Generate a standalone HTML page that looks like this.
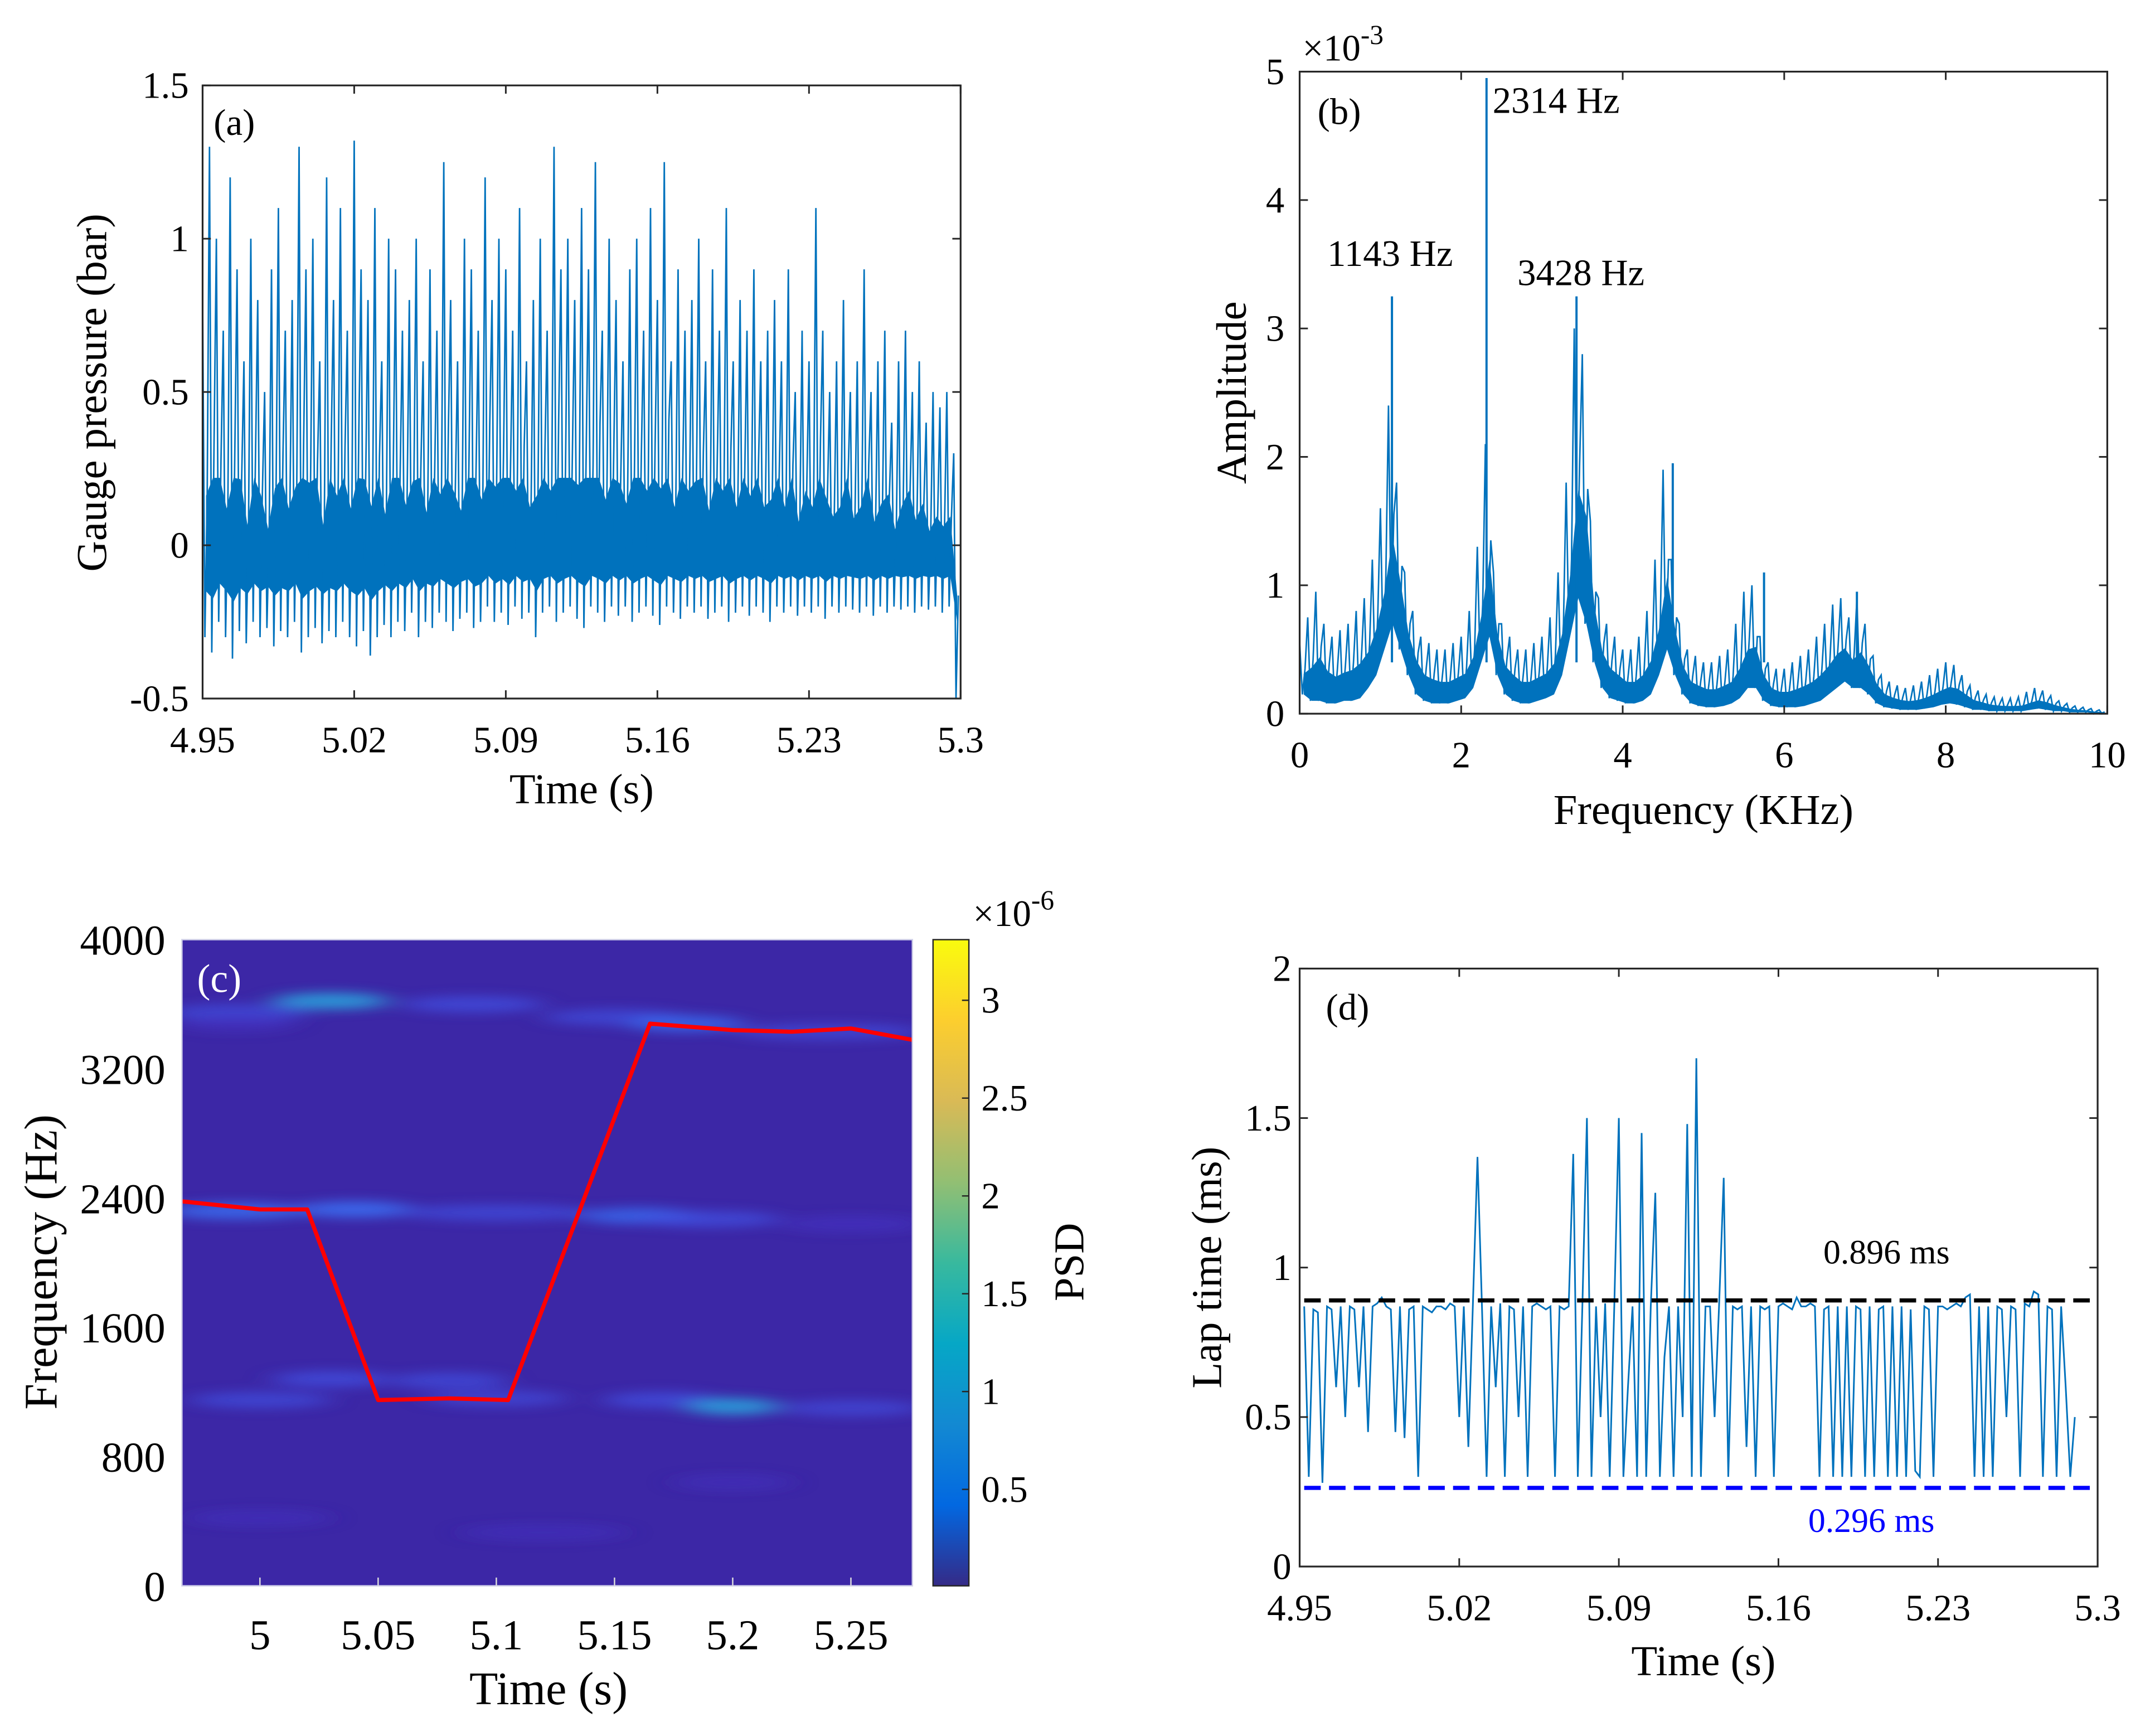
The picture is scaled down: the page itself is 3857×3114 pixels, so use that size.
<!DOCTYPE html>
<html><head><meta charset="utf-8">
<style>
html,body{margin:0;padding:0;background:#fff;}
svg{display:block;font-family:"Liberation Serif",serif;}
svg text{font-family:"Liberation Serif",serif;}
</style></head>
<body>
<svg id="fig" width="3857" height="3114" viewBox="0 0 1560 1260" preserveAspectRatio="none" xmlns="http://www.w3.org/2000/svg">
<defs>
<filter id="blur" x="-50%" y="-200%" width="200%" height="500%"><feGaussianBlur stdDeviation="10 4"/></filter>
<linearGradient id="parula" x1="0" y1="1" x2="0" y2="0">
<stop offset="0" stop-color="#352A87"/><stop offset="0.125" stop-color="#0268E1"/><stop offset="0.25" stop-color="#1389D2"/><stop offset="0.375" stop-color="#06A7C6"/><stop offset="0.5" stop-color="#38B99E"/><stop offset="0.625" stop-color="#92BF73"/><stop offset="0.75" stop-color="#D9BA56"/><stop offset="0.875" stop-color="#FCCE2E"/><stop offset="1" stop-color="#F9FB0E"/>
</linearGradient>
<clipPath id="clipC"><rect x="132" y="682" width="530" height="469"/></clipPath>
</defs>
<g id="root"></g>
</svg>
<script>
// ---------- Panel (a) data ----------
const aTop=[0.8,1.3,1.0,0.7,1.2,0.9,0.6,1.0,0.8,0.5,0.9,1.1,0.7,0.8,1.3,0.9,1.0,0.6,1.2,0.8,1.1,0.7,1.32,0.9,0.8,1.1,0.6,1.0,0.9,0.7,0.8,1.0,0.6,0.9,0.7,1.25,0.8,0.6,1.0,0.9,0.7,1.2,0.8,1.0,0.9,0.7,1.1,0.6,0.8,1.0,0.7,1.3,0.9,1.0,0.8,1.1,0.9,1.25,0.7,1.0,0.8,0.6,0.9,1.0,0.7,1.1,0.8,1.25,0.6,0.9,0.7,0.8,1.0,0.6,0.9,0.7,1.1,0.6,0.8,0.7,0.9,0.6,0.7,0.8,0.6,0.9,0.5,0.7,0.6,1.1,0.7,0.5,0.6,0.8,0.5,0.6,0.9,0.5,0.6,0.7,0.4,0.6,0.7,0.5,0.6,0.4,0.5,0.45,0.5,0.3];
const aBot=[-0.3,-0.35,-0.25,-0.3,-0.37,-0.28,-0.32,-0.25,-0.3,-0.27,-0.33,-0.28,-0.3,-0.25,-0.35,-0.3,-0.27,-0.32,-0.28,-0.3,-0.25,-0.3,-0.33,-0.28,-0.36,-0.3,-0.26,-0.3,-0.25,-0.28,-0.22,-0.3,-0.25,-0.27,-0.22,-0.25,-0.28,-0.24,-0.22,-0.27,-0.25,-0.2,-0.25,-0.22,-0.26,-0.2,-0.24,-0.22,-0.3,-0.22,-0.2,-0.25,-0.22,-0.2,-0.24,-0.27,-0.2,-0.22,-0.25,-0.2,-0.23,-0.2,-0.25,-0.22,-0.2,-0.23,-0.26,-0.2,-0.22,-0.24,-0.2,-0.22,-0.2,-0.24,-0.22,-0.2,-0.25,-0.22,-0.2,-0.23,-0.2,-0.22,-0.25,-0.2,-0.22,-0.2,-0.23,-0.2,-0.22,-0.2,-0.24,-0.2,-0.22,-0.2,-0.21,-0.22,-0.2,-0.23,-0.2,-0.22,-0.2,-0.21,-0.2,-0.22,-0.2,-0.21,-0.2,-0.22,-0.2,-0.5];
const aXTicks=[4.95,5.02,5.09,5.16,5.23,5.3];
const aXTickLabels=["4.95","5.02","5.09","5.16","5.23","5.3"];
const aYTicks=[-0.5,0,0.5,1,1.5];
const aYTickLabels=["-0.5","0","0.5","1","1.5"];

// ---------- Panel (b) data ----------
const bTop=[0.55,0.75,0.95,0.7,0.6,0.65,0.7,0.8,0.9,1.2,
1.6,2.4,1.8,1.1,0.8,0.6,0.55,0.5,0.5,0.55,
0.6,0.8,1.3,2.1,1.1,0.7,0.6,0.5,0.5,0.55,
0.6,0.75,1.1,1.8,3.0,2.8,1.5,0.9,0.7,0.6,
0.5,0.5,0.6,0.8,1.2,1.9,1.2,0.7,0.5,0.45,
0.4,0.4,0.45,0.5,0.7,0.95,1.0,0.6,0.4,0.35,
0.35,0.4,0.45,0.5,0.6,0.7,0.85,0.9,0.75,0.9,
0.7,0.45,0.3,0.25,0.22,0.2,0.22,0.25,0.3,0.35,
0.4,0.38,0.3,0.22,0.18,0.15,0.13,0.12,0.12,0.13,
0.17,0.2,0.18,0.14,0.1,0.08,0.06,0.05,0.04,0.03];
const bBot=[0.15,0.1,0.1,0.08,0.08,0.1,0.1,0.12,0.2,0.3,
0.5,0.7,0.5,0.3,0.15,0.1,0.08,0.08,0.08,0.1,
0.12,0.2,0.4,0.6,0.3,0.15,0.1,0.08,0.08,0.1,
0.12,0.15,0.3,0.6,0.9,0.7,0.4,0.2,0.12,0.1,
0.08,0.08,0.1,0.15,0.3,0.5,0.3,0.15,0.08,0.06,
0.05,0.05,0.06,0.08,0.12,0.2,0.2,0.1,0.06,0.05,
0.05,0.05,0.06,0.08,0.1,0.15,0.2,0.25,0.2,0.2,
0.15,0.08,0.05,0.04,0.03,0.03,0.03,0.04,0.05,0.07,
0.08,0.07,0.05,0.03,0.03,0.02,0.02,0.02,0.02,0.02,
0.03,0.04,0.03,0.02,0.02,0.01,0.01,0.01,0.0,0.0];
const bPeakF=[1.143,2.314,3.428,4.62,5.75,6.9];
const bPeakA=[3.25,4.95,3.25,1.95,1.1,0.95];
const bXTicks=[0,2,4,6,8,10];
const bYTicks=[0,1,2,3,4,5];

// ---------- Panel (c) data ----------
const cBlobT=[4.99,5.03,5.09,5.15,5.18,5.24,4.99, 4.99,5.04,5.1,5.16,5.19,5.25, 5.03,5.08,5.0,5.1,5.17,5.2,5.25, 5.0,5.12,5.2];
const cBlobF=[3550,3620,3600,3520,3480,3430,3480, 2320,2330,2310,2290,2270,2240, 1280,1270,1150,1160,1150,1110,1100, 420,330,640];
const cBlobDur=[0.06,0.05,0.06,0.06,0.05,0.08,0.05, 0.06,0.05,0.08,0.05,0.06,0.06, 0.05,0.05,0.06,0.06,0.05,0.04,0.06, 0.06,0.07,0.05];
const cBlobI=[0.3,0.55,0.35,0.3,0.4,0.25,0.2, 0.45,0.5,0.3,0.4,0.35,0.2, 0.35,0.3,0.3,0.25,0.35,0.55,0.25, 0.08,0.08,0.06];
const cRidgeT=[4.967,5.0,5.02,5.05,5.08,5.105,5.165,5.2,5.225,5.25,5.276];
const cRidgeF=[2380,2330,2330,1150,1160,1150,3480,3440,3430,3450,3380];
const cXTicks=[5,5.05,5.1,5.15,5.2,5.25];
const cXTickLabels=["5","5.05","5.1","5.15","5.2","5.25"];
const cYTicks=[0,800,1600,2400,3200,4000];
const cbTicks=[0.5,1,1.5,2,2.5,3];
const cbTickLabels=["0.5","1","1.5","2","2.5","3"];

// ---------- Panel (d) data ----------
const dT0=4.952, dStep=0.002;
const dVals=[0.87,0.3,0.86,0.85,0.28,0.87,0.86,0.6,0.87,0.5,
0.87,0.86,0.6,0.87,0.45,0.87,0.88,0.9,0.87,0.86,
0.45,0.87,0.43,0.86,0.87,0.3,0.87,0.86,0.85,0.87,
0.87,0.86,0.88,0.87,0.5,0.87,0.4,0.88,1.37,0.86,
0.3,0.87,0.6,0.88,0.3,0.87,0.86,0.5,0.87,0.3,
0.87,0.88,0.87,0.86,0.87,0.3,0.87,0.86,0.87,1.38,
0.3,0.87,1.5,0.3,0.87,0.5,0.88,0.3,0.87,1.5,
0.3,0.6,0.87,0.3,1.45,0.3,0.87,1.25,0.3,0.7,
0.87,0.3,0.87,0.5,1.48,0.3,1.7,0.3,0.87,0.87,
0.5,0.88,1.3,0.3,0.87,0.86,0.87,0.4,0.87,0.3,
0.87,0.86,0.87,0.3,0.87,0.88,0.87,0.86,0.9,0.87,
0.87,0.88,0.87,0.3,0.86,0.87,0.3,0.87,0.3,0.87,
0.3,0.87,0.86,0.3,0.87,0.3,0.86,0.87,0.3,0.87,
0.3,0.87,0.3,0.86,0.32,0.3,0.87,0.86,0.3,0.87,
0.87,0.86,0.87,0.88,0.87,0.9,0.91,0.3,0.87,0.3,
0.87,0.3,0.87,0.86,0.5,0.87,0.86,0.3,0.88,0.87,
0.92,0.91,0.3,0.87,0.86,0.3,0.87,0.6,0.3,0.5];
const dMeanHi=0.89, dMeanLo=0.263;
const dXTicks=[4.95,5.02,5.09,5.16,5.23,5.3];
const dXTickLabels=["4.95","5.02","5.09","5.16","5.23","5.3"];
const dYTicks=[0,0.5,1,1.5,2];
const dYTickLabels=["0","0.5","1","1.5","2"];

const NS="http://www.w3.org/2000/svg";
const FONT='"Liberation Serif", serif';
const root=document.getElementById('root');
function mk(tag,attrs,parent){const e=document.createElementNS(NS,tag);for(const k in attrs)e.setAttribute(k,attrs[k]);(parent||root).appendChild(e);return e;}
function txt(x,y,s,size,anchor,parent,extra){const e=mk('text',Object.assign({x:x,y:y,'font-size':size,'font-family':FONT,'text-anchor':anchor||'middle',fill:'#000'},extra||{}),parent);e.textContent=s;return e;}
function lin(d0,d1,p0,p1){return v=>p0+(v-d0)/(d1-d0)*(p1-p0);}

function axesBox(g,x0,y0,x1,y1){
  const r=mk('rect',{x:x0,y:y0,width:x1-x0,height:y1-y0,fill:'none',stroke:'#262626','stroke-width':1.3},g);
  
  
}
function xTicks(g,ticks,labels,X,y0,y1,ly,size){
  ticks.forEach((t,i)=>{const x=X(t);
    mk('line',{x1:x,y1:y1,x2:x,y2:y1-6,stroke:'#262626','stroke-width':1.2},g);
    mk('line',{x1:x,y1:y0,x2:x,y2:y0+6,stroke:'#262626','stroke-width':1.2},g);
    const e=txt(x,ly,labels[i],size,'middle',g);
    
    
  });
}
function yTicks(g,ticks,labels,Y,x0,x1,lx,size,mirror){
  ticks.forEach((t,i)=>{const y=Y(t);
    mk('line',{x1:x0,y1:y,x2:x0+6,y2:y,stroke:'#262626','stroke-width':1.2},g);
    if(mirror) mk('line',{x1:x1,y1:y,x2:x1-6,y2:y,stroke:'#262626','stroke-width':1.2},g);
    const e=txt(lx,y+9,labels[i],size,'end',g);
    
    
  });
}

// ================= Panel (a) =================
(function(){
  const g=mk('g',{});
  
  
  const x0=147,x1=697,y0=62,y1=507;
  const X=lin(4.95,5.3,x0,x1), Y=lin(-0.5,1.5,y1,y0);
  const n=aTop.length, dt=0.35/n;
  let pts=[], core=[], coreB=[];
  for(let i=0;i<n;i++){
    const t=4.95+i*dt;
    const c=aBot[i]+0.42*(aTop[i]-aBot[i]);
    pts.push(X(t)+','+Y(aTop[i]));
    pts.push(X(t+dt/3)+','+Y(aBot[i]));
    pts.push(X(t+2*dt/3)+','+Y(c));
    core.push(X(t+dt/2)+','+Y(Math.min(c,0.22)));
    coreB.unshift(X(t+dt/2)+','+Y(aBot[i]*0.5));
  }
  const f=mk('polygon',{points:core.concat(coreB).join(' '),fill:'#0072BD'},g);
  
  
  const l=mk('polyline',{points:pts.join(' '),fill:'none',stroke:'#0072BD','stroke-width':1.1,'stroke-linejoin':'miter'},g);
  
  
  axesBox(g,x0,y0,x1,y1);
  xTicks(g,aXTicks,aXTickLabels,X,y0,y1,546,27);
  yTicks(g,aYTicks,aYTickLabels,Y,x0,x1,137,27,true);
  let e=txt(422,583,'Time (s)',31,'middle',g);
  
  
  e=txt(0,0,'Gauge pressure (bar)',31,'middle',g,{transform:'translate(77,285) rotate(-90)'});
  
  
  e=txt(155,98,'(a)',27,'start',g);
  
  
})();

// ================= Panel (b) =================
(function(){
  const g=mk('g',{});
  
  
  const x0=943,x1=1529,y0=52,y1=518;
  const X=lin(0,10,x0,x1), Y=lin(0,5,y1,y0);
  const n=bTop.length, df=10/n;
  let pts=[], core=[], coreB=[];
  for(let i=0;i<n;i++){
    const f=i*df;
    pts.push(X(f)+','+Y(bTop[i]));
    pts.push(X(f+df/3)+','+Y(bBot[i]));
    pts.push(X(f+2*df/3)+','+Y(bBot[i]+0.5*(bTop[i]-bBot[i])));
    core.push(X(f+df/2)+','+Y(bBot[i]+0.4*(bTop[i]-bBot[i])));
    coreB.unshift(X(f+df/2)+','+Y(bBot[i]));
  }
  const c=mk('polygon',{points:core.concat(coreB).join(' '),fill:'#0072BD'},g);
  
  
  const l=mk('polyline',{points:pts.join(' '),fill:'none',stroke:'#0072BD','stroke-width':1.1},g);
  
  
  bPeakF.forEach((f,i)=>{
    const p=mk('line',{x1:X(f),y1:Y(0.4),x2:X(f),y2:Y(bPeakA[i]),stroke:'#0072BD','stroke-width':1.6},g);
    
    
  });
  axesBox(g,x0,y0,x1,y1);
  xTicks(g,bXTicks,bXTicks.map(String),X,y0,y1,557,27);
  yTicks(g,bYTicks,bYTicks.map(String),Y,x0,x1,932,27,true);
  let e=txt(1236,598,'Frequency (KHz)',31,'middle',g);
  
  
  e=txt(0,0,'Amplitude',31,'middle',g,{transform:'translate(904,285) rotate(-90)'});
  
  
  e=mk('text',{x:945,y:44,'font-size':27,'font-family':FONT,fill:'#000'},g);
  e.innerHTML='×10<tspan dy="-12" font-size="20">-3</tspan>';
  
  
  e=txt(956,90,'(b)',27,'start',g);
  
  
  [['1143 Hz',963,193],['2314 Hz',1083,82],['3428 Hz',1101,207]].forEach(a=>{
    const t=txt(a[1],a[2],a[0],27,'start',g);
    
    
  });
})();

// ================= Panel (c) =================
(function(){
  const g=mk('g',{});
  
  
  const x0=132,x1=662,y0=682,y1=1151;
  const X=lin(4.967,5.276,x0,x1), Y=lin(0,4000,y1,y0);
  const bg=mk('rect',{x:x0,y:y0,width:x1-x0,height:y1-y0,fill:'#3C27A6'},g);
  
  
  const hg=mk('g',{'clip-path':'url(#clipC)'},g);
  const blobs=mk('g',{filter:'url(#blur)'},hg);
  const cols=['#4434c4','#4050e0','#3a6cf0','#2a9ad8'];
  cBlobT.forEach((t,i)=>{
    const I=cBlobI[i];
    const col=I>0.5?cols[3]:I>0.35?cols[2]:I>0.2?cols[1]:cols[0];
    const el=mk('ellipse',{cx:X(t),cy:Y(cBlobF[i]),rx:(X(t+cBlobDur[i]/2)-X(t)),ry:6,fill:col,opacity:Math.min(1,0.4+I)},blobs);
    
    
  });
  const rp=cRidgeT.map((t,i)=>X(t)+','+Y(cRidgeF[i])).join(' ');
  const r=mk('polyline',{points:rp,fill:'none',stroke:'#FF0000','stroke-width':3,'stroke-linejoin':'round'},hg);
  
  
  mk('rect',{x:x0,y:y0,width:x1-x0,height:y1-y0,fill:'none',stroke:'#d0d0e8','stroke-width':1},g);
  cXTicks.forEach((t,i)=>{
    mk('line',{x1:X(t),y1:y1,x2:X(t),y2:y1-6,stroke:'#ddd','stroke-width':1},g);
    const e=txt(X(t),1197,cXTickLabels[i],31,'middle',g);
    
    
  });
  cYTicks.forEach(v=>{
    const e=txt(120,Y(v)+11,String(v),31,'end',g);
    
    
  });
  let e=txt(398,1237,'Time (s)',34,'middle',g);
  
  
  e=txt(0,0,'Frequency (Hz)',34,'middle',g,{transform:'translate(41,916) rotate(-90)'});
  
  
  e=txt(143,720,'(c)',29,'start',g,{fill:'#fff'});
  
  
  const cb=mk('rect',{x:677,y:y0,width:26,height:y1-y0,fill:'url(#parula)',stroke:'#262626','stroke-width':1},g);
  
  
  const CY=lin(0.007,3.31,y1,y0);
  cbTicks.forEach((v,i)=>{
    mk('line',{x1:703,y1:CY(v),x2:698,y2:CY(v),stroke:'#262626','stroke-width':1},g);
    const t=txt(712,CY(v)+9,cbTickLabels[i],27,'start',g);
    
    
  });
  e=mk('text',{x:706,y:672,'font-size':27,'font-family':FONT,fill:'#000'},g);
  e.innerHTML='×10<tspan dy="-12" font-size="20">-6</tspan>';
  
  
  e=txt(0,0,'PSD',31,'middle',g,{transform:'translate(786,916) rotate(-90)'});
  
  
})();

// ================= Panel (d) =================
(function(){
  const g=mk('g',{});
  
  
  const x0=943,x1=1522,y0=703,y1=1137;
  const X=lin(4.95,5.3,x0,x1), Y=lin(0,2,y1,y0);
  const pts=dVals.map((v,i)=>X(dT0+i*dStep)+','+Y(v)).join(' ');
  const l=mk('polyline',{points:pts,fill:'none',stroke:'#0072BD','stroke-width':1.2},g);
  
  
  let h=mk('line',{x1:X(4.952),y1:Y(dMeanHi),x2:X(5.297),y2:Y(dMeanHi),stroke:'#000','stroke-width':3,'stroke-dasharray':'12 6'},g);
  
  
  h=mk('line',{x1:X(4.952),y1:Y(dMeanLo),x2:X(5.297),y2:Y(dMeanLo),stroke:'#0000FF','stroke-width':3,'stroke-dasharray':'12 6'},g);
  
  
  axesBox(g,x0,y0,x1,y1);
  xTicks(g,dXTicks,dXTickLabels,X,y0,y1,1176,27);
  yTicks(g,dYTicks,dYTickLabels,Y,x0,x1,937,27,true);
  let e=txt(1236,1216,'Time (s)',31,'middle',g);
  
  
  e=txt(0,0,'Lap time (ms)',31,'middle',g,{transform:'translate(886,920) rotate(-90)'});
  
  
  e=txt(962,740,'(d)',27,'start',g);
  
  
  e=txt(1323,917,'0.896 ms',25,'start',g);
  
  
  e=txt(1312,1112,'0.296 ms',25,'start',g,{fill:'#0000FF'});
  
  
})();
</script>
</body></html>
